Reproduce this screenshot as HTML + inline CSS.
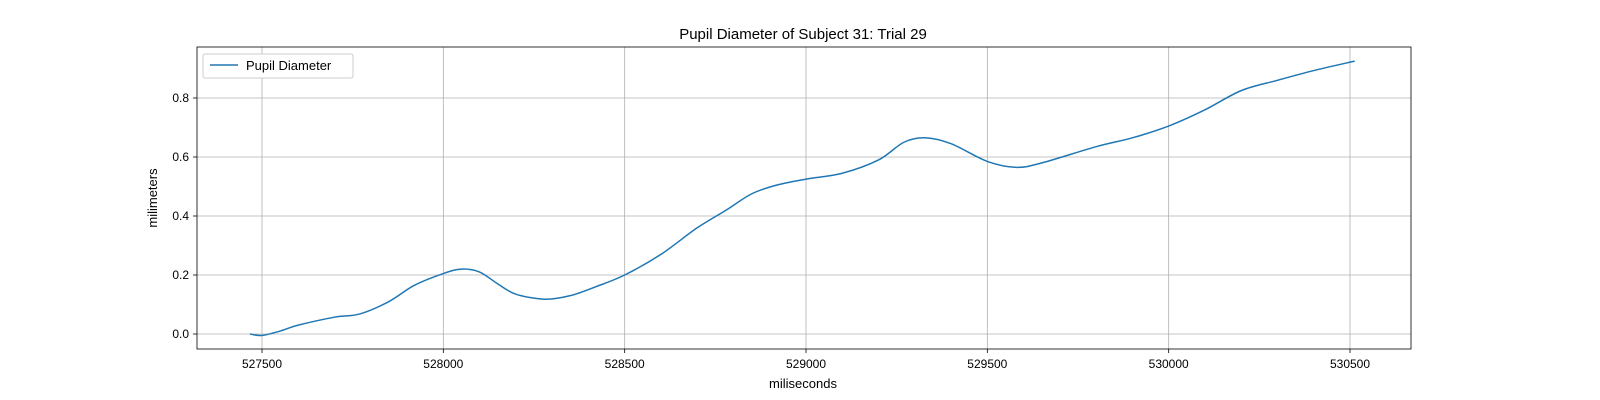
<!DOCTYPE html>
<html><head><meta charset="utf-8"><style>
html,body{margin:0;padding:0;background:#fff;}
svg{display:block;font-family:"Liberation Sans","DejaVu Sans",sans-serif;}
</style></head><body>
<svg id="chart" width="1600" height="400" viewBox="0 0 1600 400">
<rect x="0" y="0" width="1600" height="400" fill="#fff"/>
<g id="grid"></g>
<path id="line" fill="none" stroke="#1f77b4" stroke-width="1.5"/>
<rect x="197" y="47" width="1214" height="302" fill="none" stroke="#000" stroke-width="0.8"/>
<g id="ticks"></g>
<text x="803" y="39" text-anchor="middle" font-size="15">Pupil Diameter of Subject 31: Trial 29</text>
<text x="803" y="388" text-anchor="middle" font-size="13">miliseconds</text>
<text x="157" y="198" text-anchor="middle" font-size="13" transform="rotate(-90 157 198)">milimeters</text>
<g>
<rect x="203" y="54" width="150" height="24" rx="2" fill="#fff" stroke="#ccc" stroke-width="1"/>
<line x1="210" y1="65" x2="238" y2="65" stroke="#1f77b4" stroke-width="1.5"/>
<text x="246" y="70" font-size="13">Pupil Diameter</text>
</g>
</svg>
<script>
const xTicks=[527500,528000,528500,529000,529500,530000,530500];
const yTicks=[0.0,0.2,0.4,0.6,0.8];
const times=[527467,527500,527550,527600,527700,527770,527850,527920,528000,528050,528100,528150,528200,528280,528350,528420,528500,528600,528700,528780,528850,528920,529000,529100,529200,529270,529330,529400,529500,529580,529650,529800,529900,530000,530100,530200,530300,530400,530513];
const diam=[0.0,-0.005,0.01,0.03,0.057,0.068,0.11,0.165,0.205,0.22,0.21,0.17,0.135,0.118,0.13,0.16,0.2,0.27,0.36,0.42,0.475,0.505,0.525,0.545,0.59,0.65,0.665,0.645,0.585,0.565,0.58,0.635,0.665,0.705,0.76,0.825,0.86,0.893,0.925];
const xs=v=>262+(v-527500)*(1350-262)/3000;
const ys=v=>334-v*(334-98)/0.8;
const NS='http://www.w3.org/2000/svg';
const grid=document.getElementById('grid'),ticks=document.getElementById('ticks');
function mk(tag,attrs,parent){const e=document.createElementNS(NS,tag);for(const k in attrs)e.setAttribute(k,attrs[k]);parent.appendChild(e);return e;}
xTicks.forEach(t=>{const x=xs(t);
const g=mk('line',{x1:x,x2:x,y1:47,y2:349,stroke:'#b0b0b0','stroke-width':0.8},grid);


const tk=mk('line',{x1:x,x2:x,y1:349,y2:353,stroke:'#000','stroke-width':0.8},ticks);


const l=mk('text',{x:x,y:368,'text-anchor':'middle','font-size':12},ticks);l.textContent=t;

});
yTicks.forEach(t=>{const y=ys(t);
const g=mk('line',{x1:197,x2:1411,y1:y,y2:y,stroke:'#b0b0b0','stroke-width':0.8},grid);


const tk=mk('line',{x1:193,x2:197,y1:y,y2:y,stroke:'#000','stroke-width':0.8},ticks);


const l=mk('text',{x:189,y:y+4,'text-anchor':'end','font-size':12},ticks);l.textContent=t.toFixed(1);

});
const P=times.map((t,i)=>[xs(t),ys(diam[i])]);
let d='M'+P[0][0]+','+P[0][1];
for(let i=0;i<P.length-1;i++){const p0=P[Math.max(0,i-1)],p1=P[i],p2=P[i+1],p3=P[Math.min(P.length-1,i+2)];
const c1=[p1[0]+(p2[0]-p0[0])/6,p1[1]+(p2[1]-p0[1])/6],c2=[p2[0]-(p3[0]-p1[0])/6,p2[1]-(p3[1]-p1[1])/6];
d+=' C'+c1+' '+c2+' '+p2;}
document.getElementById('line').setAttribute('d',d);
</script>
</body></html>
